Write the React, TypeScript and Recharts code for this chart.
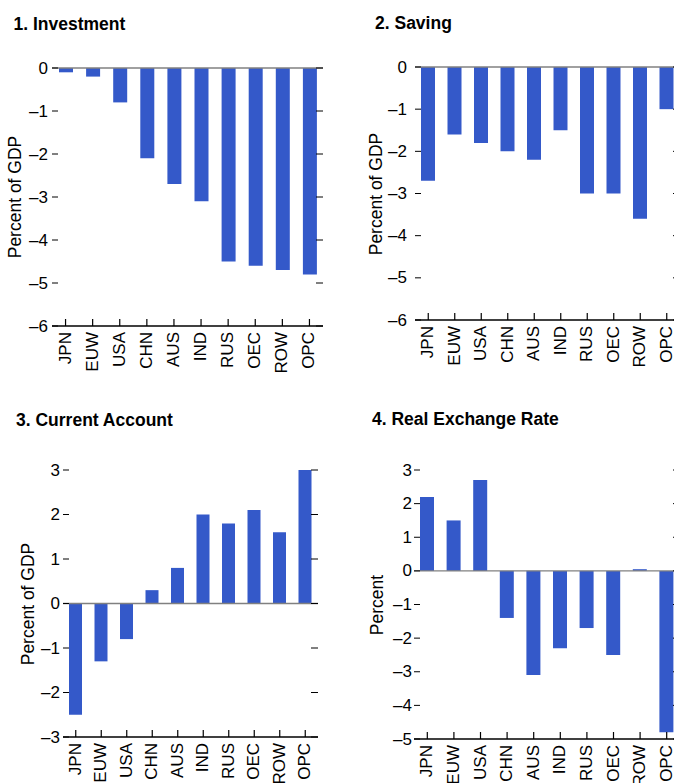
import React from 'react';
import { BarChart, Bar, XAxis, YAxis, ReferenceLine } from 'recharts';

const categories = ['JPN', 'EUW', 'USA', 'CHN', 'AUS', 'IND', 'RUS', 'OEC', 'ROW', 'OPC'];
const investment = [-0.1, -0.2, -0.8, -2.1, -2.7, -3.1, -4.5, -4.6, -4.7, -4.8];
const saving = [-2.7, -1.6, -1.8, -2.0, -2.2, -1.5, -3.0, -3.0, -3.6, -1.0];
const currentAccount = [-2.5, -1.3, -0.8, 0.3, 0.8, 2.0, 1.8, 2.1, 1.6, 3.0];
const realExchangeRate = [2.2, 1.5, 2.7, -1.4, -3.1, -2.3, -1.7, -2.5, 0.05, -4.8];

const ticksSixToZero = [0, -1, -2, -3, -4, -5, -6];
const ticksCurrent = [3, 2, 1, 0, -1, -2, -3];
const ticksExchange = [3, 2, 1, 0, -1, -2, -3, -4, -5];

const titles = ['1. Investment', '2. Saving', '3. Current Account', '4. Real Exchange Rate'];
const yLabels = ['Percent of GDP', 'Percent of GDP', 'Percent of GDP', 'Percent'];

const FONT = '"Liberation Sans", Arial, Helvetica, sans-serif';
const BAR_COLOR = '#3459C9';

const fmt = (v: number) => (v < 0 ? '\u2013' + Math.abs(v) : String(v));

type PanelProps = {
  values: number[];
  domain: [number, number];
  ticks: number[];
  left: number;
  top: number;
  width: number;
  height: number;
  plotLeft: number;
  plotRight: number;
  plotTop: number;
  plotBottom: number;
  labelGap: number;
  barSize: number;
};

function Panel(p: PanelProps) {
  const data = categories.map((name, i) => ({ name, value: p.values[i] }));
  const leftTick = (props: any) => {
    const { x, y, payload } = props;
    return (
      <g>
        <line x1={x} x2={x + 6} y1={y} y2={y} stroke="#000" strokeWidth={1} />
        <text
          x={x - p.labelGap}
          y={y}
          textAnchor="end"
          dominantBaseline="central"
          fontSize={17}
          fontFamily={FONT}
          fill="#000"
        >
          {fmt(payload.value)}
        </text>
      </g>
    );
  };
  const rightTick = (props: any) => {
    const { x, y } = props;
    return <line x1={x - 7} x2={x} y1={y} y2={y} stroke="#000" strokeWidth={1} />;
  };
  const xTick = (props: any) => {
    const { x, y, payload } = props;
    const tx = x + 5;
    const ty = y + 6;
    return (
      <g>
        <line x1={x} x2={x} y1={y} y2={y - 7} stroke="#000" strokeWidth={1.2} />
        <text
          x={tx}
          y={ty}
          transform={`rotate(-90, ${tx}, ${ty})`}
          textAnchor="end"
          fontSize={17}
          fontFamily={FONT}
          fill="#000"
        >
          {payload.value}
        </text>
      </g>
    );
  };
  return (
    <div style={{ position: 'absolute', left: p.left, top: p.top }}>
      <BarChart
        width={p.width}
        height={p.height}
        data={data}
        style={{ overflow: 'visible' }}
        margin={{
          top: p.plotTop,
          left: p.plotLeft - 1,
          right: p.width - p.plotRight - 1,
          bottom: p.height - p.plotBottom - 1,
        }}
      >
        <XAxis
          dataKey="name"
          type="category"
          height={1}
          interval={0}
          tickLine={false}
          tickSize={0}
          tickMargin={0}
          axisLine={{ stroke: '#000', strokeWidth: 1.5 }}
          tick={xTick}
        />
        <YAxis
          yAxisId="l"
          type="number"
          domain={p.domain}
          ticks={p.ticks}
          interval={0}
          width={1}
          axisLine={false}
          tickLine={false}
          tickSize={0}
          tickMargin={0}
          allowDataOverflow
          tick={leftTick}
        />
        <YAxis
          yAxisId="r"
          orientation="right"
          type="number"
          domain={p.domain}
          ticks={p.ticks}
          interval={0}
          width={1}
          axisLine={false}
          tickLine={false}
          tickSize={0}
          tickMargin={0}
          allowDataOverflow
          tick={rightTick}
        />
        <Bar yAxisId="l" dataKey="value" fill={BAR_COLOR} barSize={p.barSize} isAnimationActive={false} />
        <ReferenceLine yAxisId="l" y={0} stroke="#808080" strokeWidth={1.3} />
      </BarChart>
    </div>
  );
}

export default function App() {
  return (
    <div
      style={{
        position: 'absolute',
        left: 0,
        top: 0,
        width: 674,
        height: 783,
        overflow: 'hidden',
        background: '#fff',
      }}
    >
      <Panel
        values={investment}
        domain={[-6, 0]}
        ticks={ticksSixToZero}
        left={0}
        top={0}
        width={340}
        height={390}
        plotLeft={52}
        plotRight={323}
        plotTop={68}
        plotBottom={326}
        labelGap={4}
        barSize={14}
      />
      <Panel
        values={saving}
        domain={[-6, 0]}
        ticks={ticksSixToZero}
        left={340}
        top={0}
        width={350}
        height={390}
        plotLeft={75}
        plotRight={340}
        plotTop={67}
        plotBottom={320}
        labelGap={8}
        barSize={14}
      />
      <Panel
        values={currentAccount}
        domain={[-3, 3]}
        ticks={ticksCurrent}
        left={0}
        top={390}
        width={340}
        height={393}
        plotLeft={63}
        plotRight={318}
        plotTop={80}
        plotBottom={347}
        labelGap={3}
        barSize={13}
      />
      <Panel
        values={realExchangeRate}
        domain={[-5, 3]}
        ticks={ticksExchange}
        left={340}
        top={390}
        width={350}
        height={393}
        plotLeft={74}
        plotRight={340}
        plotTop={80}
        plotBottom={349}
        labelGap={2}
        barSize={14}
      />
      <svg
        width={674}
        height={783}
        style={{ position: 'absolute', left: 0, top: 0, pointerEvents: 'none' }}
      >
        <g fontFamily={FONT} fontWeight="bold" fontSize={17.5} fill="#000">
          <text x={13.5} y={30}>{titles[0]}</text>
          <text x={375} y={29}>{titles[1]}</text>
          <text x={16} y={426}>{titles[2]}</text>
          <text x={372} y={425}>{titles[3]}</text>
        </g>
        <g fontFamily={FONT} fontSize={17.5} fill="#000" textAnchor="middle" dominantBaseline="central">
          <text x={15} y={197} transform="rotate(-90, 15, 197)">{yLabels[0]}</text>
          <text x={376} y={194} transform="rotate(-90, 376, 194)">{yLabels[1]}</text>
          <text x={28} y={604} transform="rotate(-90, 28, 604)">{yLabels[2]}</text>
          <text x={377} y={605} transform="rotate(-90, 377, 605)">{yLabels[3]}</text>
        </g>
      </svg>
    </div>
  );
}
